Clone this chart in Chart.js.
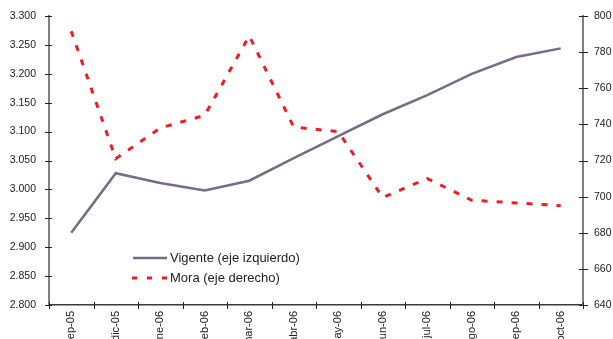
<!DOCTYPE html>
<html>
<head>
<meta charset="utf-8">
<script src="https://cdn.jsdelivr.net/npm/chart.js@4/dist/chart.umd.min.js"></script>
<style>
html,body{margin:0;padding:0;background:#fff;overflow:hidden;}
canvas{display:block;}
</style>
</head>
<body>
<canvas id="c" width="613" height="339"></canvas>
<script>
const categories = ["sep-05","dic-05","ene-06","feb-06","mar-06","abr-06","may-06","jun-06","jul-06","ago-06","sep-06","oct-06"];
const vigente = [2925, 3028, 3011, 2998, 3015, 3054, 3092, 3130, 3163, 3200, 3229, 3244];
const mora = [791.6, 721, 738, 745, 789, 738.5, 736, 699.5, 710, 698, 696.5, 695];
const seriesLabels = ["Vigente (eje izquierdo)", "Mora (eje derecho)"];

const FONT = "'Liberation Sans', Arial, sans-serif";
const gray = '#766c86';
const red = '#ee1c25';

function fmtThousands(v){
  v = Math.round(v);
  const th = Math.floor(v/1000);
  const rest = String(v%1000).padStart(3,'0');
  return th + '.' + rest;
}

const crossTicks = {
  id: 'crossTicks',
  afterDraw(chart){
    const ctx = chart.ctx;
    const a = chart.chartArea;
    ctx.save();
    ctx.strokeStyle = '#222';
    ctx.lineWidth = 1;
    ctx.beginPath();
    const n = categories.length;
    for (let i = 0; i <= n; i++) {
      const x = Math.round(a.left + i * (a.right - a.left) / n) + 0.5;
      ctx.moveTo(x, a.bottom - 3); ctx.lineTo(x, a.bottom + 4);
    }
    const yl = chart.scales.y;
    yl.ticks.forEach((t, i) => {
      const y = Math.round(yl.getPixelForTick(i)) + 0.5;
      ctx.moveTo(a.left - 4, y); ctx.lineTo(a.left + 3, y);
    });
    const yr = chart.scales.y1;
    yr.ticks.forEach((t, i) => {
      const y = Math.round(yr.getPixelForTick(i)) + 0.5;
      ctx.moveTo(a.right - 4, y); ctx.lineTo(a.right + 5, y);
    });
    ctx.stroke();
    ctx.restore();
  }
};

const legendPlugin = {
  id: 'customLegend',
  afterDraw(chart){
    const ctx = chart.ctx;
    ctx.save();
    ctx.font = '13px ' + FONT;
    ctx.fillStyle = '#222';
    ctx.textBaseline = 'middle';
    ctx.strokeStyle = gray; ctx.lineWidth = 2.5; ctx.setLineDash([]);
    ctx.beginPath(); ctx.moveTo(133, 258); ctx.lineTo(167, 258); ctx.stroke();
    ctx.fillText(seriesLabels[0], 170, 258);
    ctx.strokeStyle = red; ctx.lineWidth = 3; ctx.setLineDash([5,10]);
    ctx.beginPath(); ctx.moveTo(132, 278); ctx.lineTo(168, 278); ctx.stroke();
    ctx.setLineDash([]);
    ctx.fillText(seriesLabels[1], 170, 278);
    ctx.restore();
  }
};

new Chart(document.getElementById('c'), {
  type: 'line',
  data: {
    labels: categories,
    datasets: [
      { label: seriesLabels[0], data: vigente, yAxisID: 'y', borderColor: gray, borderWidth: 2.5, pointRadius: 0, tension: 0, order: 2 },
      { label: seriesLabels[1], data: mora, yAxisID: 'y1', borderColor: red, borderWidth: 3, borderDash: [6,9], pointRadius: 0, tension: 0, order: 1 }
    ]
  },
  options: {
    responsive: false,
    animation: false,
    devicePixelRatio: 1,
    layout: { padding: { top: 16, left: 0, right: 0, bottom: 0 } },
    plugins: { legend: { display: false }, tooltip: { enabled: false } },
    scales: {
      x: {
        type: 'category',
        offset: true,
        grid: { offset: true, drawOnChartArea: false, tickLength: 4, color: 'rgba(0,0,0,0)' },
        border: { color: '#3a3a3a', width: 1.5 },
        ticks: { minRotation: 90, maxRotation: 90, autoSkip: false, padding: 2, color: '#222', font: { family: FONT, size: 11 } },
        afterFit(s){ s.height = 34; }
      },
      y: {
        position: 'left',
        min: 2800, max: 3300,
        grid: { drawOnChartArea: false, tickLength: 5, color: 'rgba(0,0,0,0)' },
        border: { color: '#808080', width: 2 },
        ticks: { stepSize: 50, padding: 8, color: '#222', font: { family: FONT, size: 10.5 }, callback: v => fmtThousands(v) },
        afterFit(s){ s.width = 49; }
      },
      y1: {
        position: 'right',
        min: 640, max: 800,
        grid: { drawOnChartArea: false, tickLength: 5, color: 'rgba(0,0,0,0)' },
        border: { color: '#808080', width: 2 },
        ticks: { stepSize: 20, padding: 6, color: '#222', font: { family: FONT, size: 10.5 } },
        afterFit(s){ s.width = 30; }
      }
    }
  },
  plugins: [crossTicks, legendPlugin]
});
</script>
</body>
</html>
